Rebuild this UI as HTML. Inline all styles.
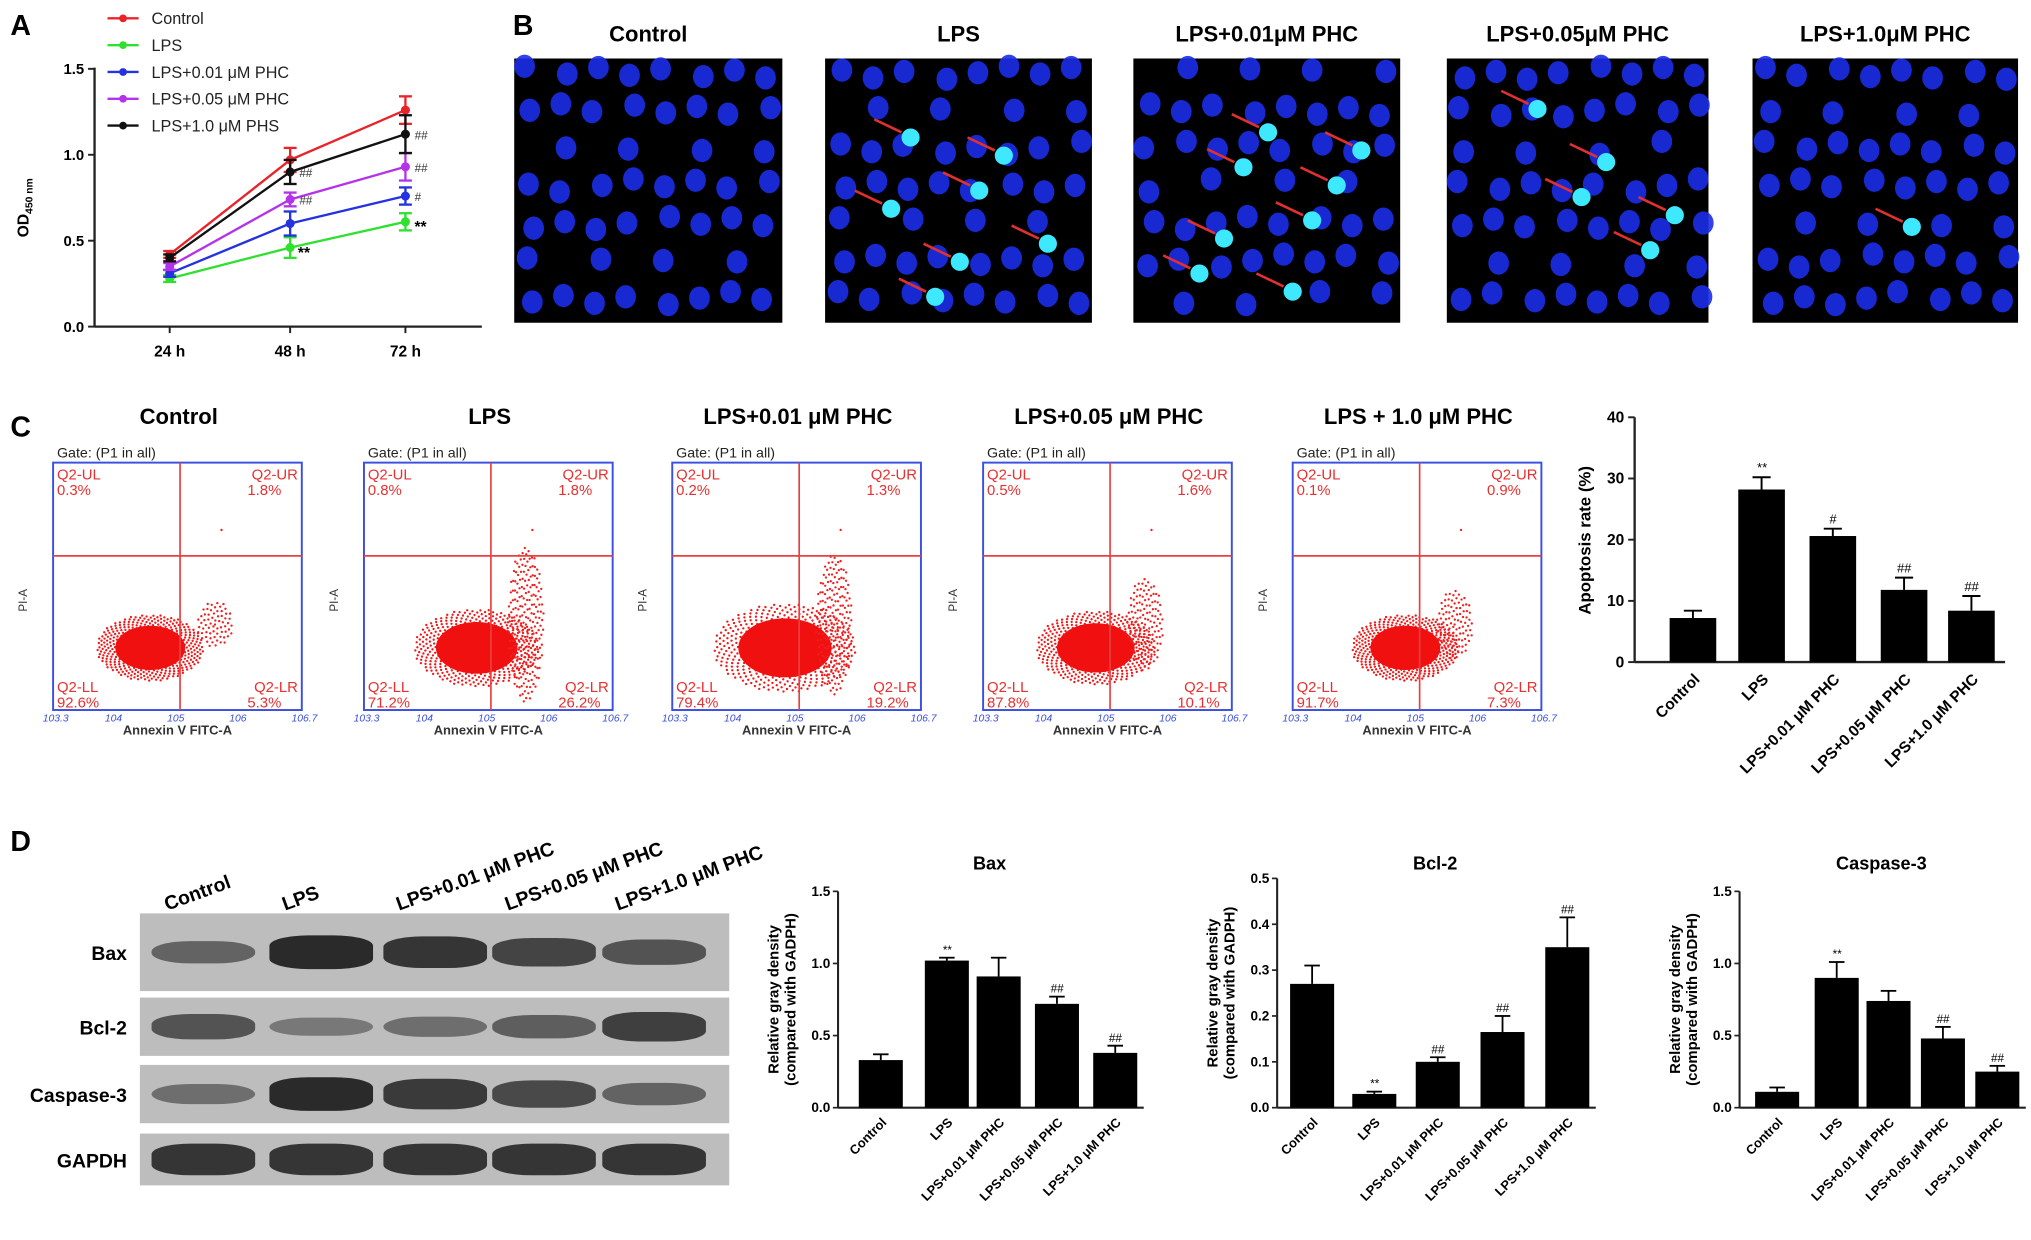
<!DOCTYPE html>
<html><head><meta charset="utf-8"><style>
html,body{margin:0;padding:0;background:#fff}
svg{display:block;font-family:"Liberation Sans",Arial,sans-serif}
.t{font-weight:bold}
</style></head><body>
<svg id="fig" width="2031" height="1240" viewBox="0 0 1568 957" xmlns="http://www.w3.org/2000/svg">
<g id="A"></g>
<g id="B"></g>
<g id="C"></g>
<g id="D"></g>
</svg>
<script>
// ---------- Panel A data ----------
const aTimes = ["24 h","48 h","72 h"];
const aSeries = ["Control","LPS","LPS+0.01 μM PHC","LPS+0.05 μM PHC","LPS+1.0 μM PHS"];
const aColors = ["#e8242a","#2fe02f","#2432e0","#b433e8","#111111"];
const aControl = [0.42,0.97,1.26];
const aLPS = [0.28,0.46,0.61];
const aP001 = [0.31,0.60,0.76];
const aP005 = [0.35,0.74,0.93];
const aP10 = [0.40,0.90,1.12];
const aErr = [[0.02,0.07,0.08],[0.02,0.06,0.05],[0.02,0.07,0.05],[0.02,0.04,0.08],[0.02,0.07,0.11]];
const aYTicks = [0,0.5,1.0,1.5];
// ---------- Panel C bar data ----------
const cCats = ["Control","LPS","LPS+0.01 μM PHC","LPS+0.05 μM PHC","LPS+1.0 μM PHC"];
const cVals = [7.2,28.2,20.6,11.8,8.4];
const cErr = [1.2,2.0,1.2,2.0,2.4];
const cMarks = ["","**","#","##","##"];
const cTicks = [0,10,20,30,40];
// ---------- Panel D bar data ----------
const dCats = ["Control","LPS","LPS+0.01 μM PHC","LPS+0.05 μM PHC","LPS+1.0 μM PHC"];
const baxVals = [0.33,1.02,0.91,0.72,0.38];
const baxErr = [0.04,0.02,0.13,0.05,0.05];
const baxMarks = ["","**","","##","##"];
const bclVals = [0.27,0.03,0.10,0.165,0.35];
const bclErr = [0.04,0.005,0.01,0.035,0.065];
const bclMarks = ["","**","##","##","##"];
const casVals = [0.11,0.90,0.74,0.48,0.25];
const casErr = [0.03,0.11,0.07,0.08,0.04];
const casMarks = ["","**","","##","##"];
const quadLabels = [["0.3%","1.8%","92.6%","5.3%"],["0.8%","1.8%","71.2%","26.2%"],["0.2%","1.3%","79.4%","19.2%"],["0.5%","1.6%","87.8%","10.1%"],["0.1%","0.9%","91.7%","7.3%"]];

const NS="http://www.w3.org/2000/svg";
function mk(parent,tag,attrs,text){const e=document.createElementNS(NS,tag);for(const k in attrs)e.setAttribute(k,attrs[k]);if(text!==undefined)e.textContent=text;parent.appendChild(e);return e;}

// ---------- Panel A ----------
(function(){
const g=document.getElementById('A');
let e=mk(g,'text',{x:8,y:27,'font-size':22,'class':'t'},'A');

const x0=73,yB=252,yT=53;
const y=v=>yB-(v/1.5)*(yB-yT);
const xs=i=>[131,224,313][i];
mk(g,'line',{x1:x0,y1:yT-1,x2:x0,y2:yB,stroke:'#222','stroke-width':1.8});
mk(g,'line',{x1:x0,y1:yB,x2:372,y2:yB,stroke:'#222','stroke-width':1.8});
aYTicks.forEach(v=>{mk(g,'line',{x1:x0-5,y1:y(v),x2:x0,y2:y(v),stroke:'#222','stroke-width':1.5});
 const t=mk(g,'text',{x:x0-8,y:y(v)+4,'font-size':11.5,'text-anchor':'end','class':'t'},v.toFixed(1));
 });
aTimes.forEach((s,i)=>{mk(g,'line',{x1:xs(i),y1:yB,x2:xs(i),y2:yB+5,stroke:'#222','stroke-width':1.5});
 const t=mk(g,'text',{x:xs(i),y:yB+23,'font-size':12,'text-anchor':'middle','class':'t'},s);
 });
const yt=mk(g,'text',{x:0,y:0,'font-size':12,'class':'t',transform:'translate(22,183) rotate(-90)'});
yt.innerHTML='OD<tspan font-size="8" dy="3">450 nm</tspan>';

const data=[aControl,aLPS,aP001,aP005,aP10];
data.forEach((vals,si)=>{
 const c=aColors[si];
 const p=mk(g,'polyline',{points:vals.map((v,i)=>xs(i)+','+y(v)).join(' '),fill:'none',stroke:c,'stroke-width':1.8});
 
 vals.forEach((v,i)=>{const er=aErr[si][i];
  mk(g,'line',{x1:xs(i),y1:y(v+er),x2:xs(i),y2:y(v-er),stroke:c,'stroke-width':1.8});
  mk(g,'line',{x1:xs(i)-5,y1:y(v+er),x2:xs(i)+5,y2:y(v+er),stroke:c,'stroke-width':1.8});
  mk(g,'line',{x1:xs(i)-5,y1:y(v-er),x2:xs(i)+5,y2:y(v-er),stroke:c,'stroke-width':1.8});
  const m=mk(g,'circle',{cx:xs(i),cy:y(v),r:3.5,fill:c});
  });
 const ly=14+si*20.7;
 mk(g,'line',{x1:83,y1:ly,x2:107,y2:ly,stroke:c,'stroke-width':1.8});
 mk(g,'circle',{cx:95,cy:ly,r:3,fill:c});
 const lt=mk(g,'text',{x:117,y:ly+4.5,'font-size':12.5,fill:'#222'},aSeries[si]);
 
});
const ann=[[229,[aP005[1],aP10[1]],['##','##']],[318,[aP001[2],aP005[2],aP10[2]],['#','##','##']]];
ann.forEach(([x,vs,ms])=>vs.forEach((v,k)=>mk(g,'text',{x:x+2,y:y(v)+4,'font-size':9,'font-style':'italic',fill:'#333'},ms[k])));
mk(g,'text',{x:230,y:y(aLPS[1])+8,'font-size':12,'class':'t'},'**');
mk(g,'text',{x:320,y:y(aLPS[2])+8,'font-size':12,'class':'t'},'**');
})();

// ---------- Panel B ----------
(function(){
const g=document.getElementById('B');
let e=mk(g,'text',{x:396,y:27,'font-size':22,'class':'t'},'B');

const titles=["Control","LPS","LPS+0.01μM PHC","LPS+0.05μM PHC","LPS+1.0μM PHC"];
const px=[397,637,875,1117,1353],pw=[207,206,206,202,205];
const apop=[0,7,8,5,1];
titles.forEach((t,i)=>{
 const tt=mk(g,'text',{x:px[i]+pw[i]/2,y:32,'font-size':17,'text-anchor':'middle','class':'t'},t);
 
 const r=mk(g,'rect',{x:px[i],y:45,width:pw[i],height:204,fill:'#000'});
 
 for(let row=0;row<7;row++)for(let col=0;col<8;col++){
  const cx=px[i]+12+col*26+((row*13+col*7+i*5)%9)-4;
  const cy=56+row*29+((col*17+row*5+i*3)%11)-5;
  if((row*7+col*3+i)%6===2)continue;
  mk(g,'ellipse',{cx,cy,rx:8,ry:9,fill:'#1c2ee8',opacity:0.9});
 }
 for(let k=0;k<apop[i];k++){
  const ax=px[i]+35+((k*53+i*19)%140),ay=75+((k*41+i*23)%150);
  mk(g,'circle',{cx:ax+12,cy:ay+8,r:7,fill:'#3ee8ff'});
  mk(g,'line',{x1:ax-16,y1:ay-6,x2:ax+5,y2:ay+4,stroke:'#e03030','stroke-width':2});
 }
});
})();

// ---------- Panel C ----------
(function(){
const g=document.getElementById('C');
let e=mk(g,'text',{x:8,y:337,'font-size':22,'class':'t'},'C');

const titles=["Control","LPS","LPS+0.01 μM PHC","LPS+0.05 μM PHC","LPS + 1.0 μM PHC"];
const bx=[41,281,519,759,998],bw=192,by=357,bh=191;
const spread=[0.9,1.05,1.2,1.0,0.9];
const tail=[0.3,1,0.9,0.6,0.45];
titles.forEach((t,i)=>{
 const x=bx[i];
 const tt=mk(g,'text',{x:x+97,y:327,'font-size':17,'text-anchor':'middle','class':'t'},t);
 
 mk(g,'text',{x:x+3,y:353,'font-size':11,fill:'#222'},'Gate: (P1 in all)');
 const cx=x+75+(i>0?12:0),cy=by+143;
 const s=spread[i];
 for(let k=0;k<500;k++){const a=k*2.39996,rr=Math.sqrt(k/500)*46*s;
  mk(g,'circle',{cx:cx+Math.cos(a)*rr,cy:cy+Math.sin(a)*rr*0.62,r:0.9,fill:'#f01818'});}
 mk(g,'ellipse',{cx,cy,rx:30*s,ry:19*s,fill:'#f01010'});
 const nt=Math.round(220*tail[i]);
 for(let k=0;k<nt;k++){const a=k*2.39996,rr=Math.sqrt(k/nt);
  mk(g,'circle',{cx:x+125+Math.cos(a)*rr*14,cy:by+125+Math.sin(a)*rr*60*tail[i],r:0.9,fill:'#f02020'});}
 mk(g,'circle',{cx:x+130,cy:by+52,r:0.9,fill:'#f02020'});
 const box=mk(g,'rect',{x,y:by,width:bw,height:bh,fill:'none',stroke:'#3b4fe0','stroke-width':1.5});
 
 mk(g,'line',{x1:x+98,y1:by,x2:x+98,y2:by+bh,stroke:'#e84040','stroke-width':1.3});
 mk(g,'line',{x1:x,y1:by+72,x2:x+bw,y2:by+72,stroke:'#e84040','stroke-width':1.3});
 const q=quadLabels[i],fs=11.5,red='#e83030';
 mk(g,'text',{x:x+3,y:by+13,'font-size':fs,fill:red},'Q2-UL');
 mk(g,'text',{x:x+3,y:by+25,'font-size':fs,fill:red},q[0]);
 mk(g,'text',{x:x+bw-3,y:by+13,'font-size':fs,fill:red,'text-anchor':'end'},'Q2-UR');
 mk(g,'text',{x:x+bw-42,y:by+25,'font-size':fs,fill:red},q[1]);
 mk(g,'text',{x:x+3,y:by+bh-14,'font-size':fs,fill:red},'Q2-LL');
 mk(g,'text',{x:x+3,y:by+bh-2,'font-size':fs,fill:red},q[2]);
 mk(g,'text',{x:x+bw-3,y:by+bh-14,'font-size':fs,fill:red,'text-anchor':'end'},'Q2-LR');
 mk(g,'text',{x:x+bw-42,y:by+bh-2,'font-size':fs,fill:red},q[3]);
 mk(g,'text',{x:x+bw/2,y:by+bh+19,'font-size':10,'text-anchor':'middle','class':'t',fill:'#333'},'Annexin V FITC-A');
 mk(g,'text',{x:0,y:0,'font-size':9,fill:'#333',transform:`translate(${x-20},${by+115}) rotate(-90)`},'PI-A');
 ['3.3','4','5','6','6.7'].forEach((s2,k)=>mk(g,'text',{x:x-8+k*48,y:by+bh+9,'font-size':8,fill:'#3b4fe0','font-style':'italic'},'10'+s2));
});
const x0=1262,yB=511,yT=322;
const y=v=>yB-v/40*(yB-yT);
const cx=[1307,1360,1415,1470,1522];
mk(g,'line',{x1:x0,y1:yT,x2:x0,y2:yB,stroke:'#222','stroke-width':1.8});
mk(g,'line',{x1:x0,y1:yB,x2:1548,y2:yB,stroke:'#222','stroke-width':1.8});
cTicks.forEach(v=>{mk(g,'line',{x1:x0-5,y1:y(v),x2:x0,y2:y(v),stroke:'#222','stroke-width':1.5});
 const t=mk(g,'text',{x:x0-8,y:y(v)+4,'font-size':12,'text-anchor':'end','class':'t'},v);
 });
const yt=mk(g,'text',{x:0,y:0,'font-size':13,'class':'t','text-anchor':'middle',transform:'translate(1228,417) rotate(-90)'},'Apoptosis rate (%)');

cVals.forEach((v,i)=>{
 const b=mk(g,'rect',{x:cx[i]-18,y:y(v),width:36,height:yB-y(v),fill:'#000'});
 
 mk(g,'line',{x1:cx[i],y1:y(v),x2:cx[i],y2:y(v+cErr[i]),stroke:'#000','stroke-width':1.5});
 mk(g,'line',{x1:cx[i]-7,y1:y(v+cErr[i]),x2:cx[i]+7,y2:y(v+cErr[i]),stroke:'#000','stroke-width':1.5});
 if(cMarks[i])mk(g,'text',{x:cx[i],y:y(v+cErr[i])-4,'font-size':10,'text-anchor':'middle','font-style':'italic'},cMarks[i]);
 const t=mk(g,'text',{x:0,y:0,'font-size':12,'class':'t','text-anchor':'end',transform:`translate(${cx[i]+6},${yB+14}) rotate(-45)`},cCats[i]);
 
});
})();

// ---------- Panel D ----------
(function(){
const g=document.getElementById('D');
let e=mk(g,'text',{x:8,y:657,'font-size':22,'class':'t'},'D');

const lanes=[157,248,336,420,505];
["Control","LPS","LPS+0.01 μM PHC","LPS+0.05 μM PHC","LPS+1.0 μM PHC"].forEach((s,i)=>{
 const t=mk(g,'text',{x:0,y:0,'font-size':15,'class':'t',transform:`translate(${lanes[i]-28},${703}) rotate(-20)`},s);
 });
const rows=[["Bax",705,60,[0.45,1,0.9,0.75,0.6]],["Bcl-2",770,45,[0.6,0.25,0.35,0.5,0.8]],["Caspase-3",822,45,[0.35,1,0.85,0.7,0.45]],["GAPDH",875,40,[0.9,0.9,0.9,0.9,0.9]]];
rows.forEach(([n,ry,rh,ints])=>{
 const t=mk(g,'text',{x:98,y:ry+rh/2+6,'font-size':15,'class':'t','text-anchor':'end'},n);
 
 const r=mk(g,'rect',{x:108,y:ry,width:455,height:rh,fill:'#bdbdbd'});
 
 ints.forEach((v,i)=>mk(g,'rect',{x:lanes[i]-40,y:ry+rh/2-(5+v*8),width:80,height:2*(5+v*8),rx:30,ry:8,fill:'#111',opacity:0.25+v*0.6}));
});
function bars(x0,yT,max,ticks,dec,cx,vals,errs,marks,title){
 const yB=855;const y=v=>yB-v/max*(yB-yT);
 mk(g,'text',{x:(x0+cx[4])/2+10,y:671,'font-size':14,'class':'t','text-anchor':'middle'},title);
 mk(g,'line',{x1:x0,y1:yT,x2:x0,y2:yB,stroke:'#222','stroke-width':1.6});
 mk(g,'line',{x1:x0,y1:yB,x2:cx[4]+22,y2:yB,stroke:'#222','stroke-width':1.6});
 ticks.forEach(v=>{mk(g,'line',{x1:x0-4,y1:y(v),x2:x0,y2:y(v),stroke:'#222','stroke-width':1.3});
  const t=mk(g,'text',{x:x0-6,y:y(v)+3.5,'font-size':10.5,'text-anchor':'end','class':'t'},v.toFixed(dec));
  });
 const yt=mk(g,'text',{x:0,y:0,'font-size':11.5,'class':'t','text-anchor':'middle',transform:`translate(${x0-46},${(yT+yB)/2}) rotate(-90)`});
 yt.innerHTML='<tspan x="0" dy="0">Relative gray density</tspan><tspan x="0" dy="13">(compared with GADPH)</tspan>';
 
 vals.forEach((v,i)=>{
  const b=mk(g,'rect',{x:cx[i]-17,y:y(v),width:34,height:yB-y(v),fill:'#000'});
  
  mk(g,'line',{x1:cx[i],y1:y(v),x2:cx[i],y2:y(v+errs[i]),stroke:'#000','stroke-width':1.4});
  mk(g,'line',{x1:cx[i]-6,y1:y(v+errs[i]),x2:cx[i]+6,y2:y(v+errs[i]),stroke:'#000','stroke-width':1.4});
  if(marks[i])mk(g,'text',{x:cx[i],y:y(v+errs[i])-3,'font-size':9,'text-anchor':'middle','font-style':'italic'},marks[i]);
  const t=mk(g,'text',{x:0,y:0,'font-size':10,'class':'t','text-anchor':'end',transform:`translate(${cx[i]+5},${yB+12}) rotate(-45)`},dCats[i]);
  
 });
}
bars(647,688,1.5,[0,0.5,1.0,1.5],1,[680,731,771,816,861],baxVals,baxErr,baxMarks,'Bax');
bars(986,678,0.5,[0,0.1,0.2,0.3,0.4,0.5],1,[1013,1061,1110,1160,1210],bclVals,bclErr,bclMarks,'Bcl-2');
bars(1343,688,1.5,[0,0.5,1.0,1.5],1,[1372,1418,1458,1500,1542],casVals,casErr,casMarks,'Caspase-3');
})();
</script>
</body></html>
